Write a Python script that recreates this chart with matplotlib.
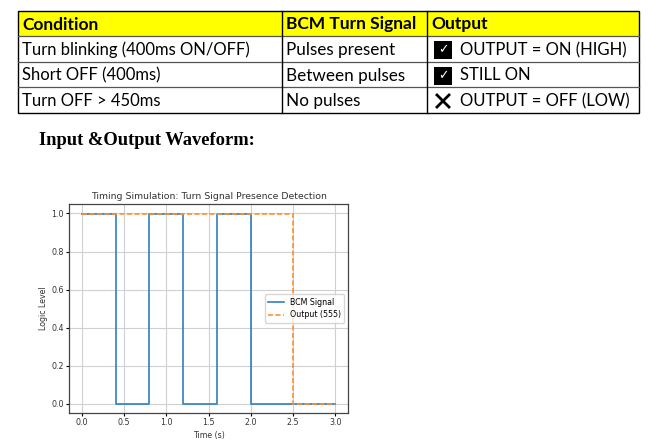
import numpy as np
import matplotlib.pyplot as plt
from matplotlib.patches import Rectangle

# table contents
headers = ['Condition', 'BCM Turn Signal', 'Output']
conditions = ['Turn blinking (400ms ON/OFF)', 'Short OFF (400ms)', 'Turn OFF > 450ms']
bcm_states = ['Pulses present', 'Between pulses', 'No pulses']
outputs = ['OUTPUT = ON (HIGH)', 'STILL ON', 'OUTPUT = OFF (LOW)']
output_marks = ['check', 'check', 'cross']

# waveform data (step, post)
t_bcm = [0.0, 0.4, 0.8, 1.2, 1.6, 2.0, 3.0]
bcm_signal = [1, 0, 1, 0, 1, 0, 0]
t_out = [0.0, 2.5, 3.0]
out_signal = [1, 0, 0]

W, H = 667, 442
fig = plt.figure(figsize=(W / 100, H / 100), dpi=100)

# background axes in pixel coordinates for table + heading
bg = fig.add_axes([0, 0, 1, 1])
bg.set_xlim(0, W)
bg.set_ylim(H, 0)
bg.axis('off')

tfont = 'Lato'
x0, x1, x2, x3 = 18, 282, 427, 639
row_y = [11, 36, 62, 87, 113]

bg.add_patch(Rectangle((x0, row_y[0]), x3 - x0, row_y[1] - row_y[0],
                       facecolor='#ffff00', edgecolor='none'))
for y in row_y[1:-1]:
    bg.plot([x0, x3], [y, y], color='#555555', lw=0.9)
bg.add_patch(Rectangle((x0, row_y[0]), x3 - x0, row_y[-1] - row_y[0],
                       facecolor='none', edgecolor='black', lw=1.0))
for x in (x1, x2):
    bg.plot([x, x], [row_y[0], row_y[-1]], color='black', lw=1.0)

hx = [x0 + 4, x1 + 4, x2 + 4]
for x, h in zip(hx, headers):
    bg.text(x, (row_y[0] + row_y[1]) / 2 + 1, h, fontsize=12.5, fontweight='bold',
            family=tfont, va='center', ha='left')

for i in range(3):
    yc = (row_y[i + 1] + row_y[i + 2]) / 2 + 1
    bg.text(x0 + 4, yc, conditions[i], fontsize=12, family=tfont, va='center')
    bg.text(x1 + 4, yc, bcm_states[i], fontsize=12.3, family=tfont, va='center')
    if output_marks[i] == 'check':
        bg.add_patch(Rectangle((434, yc - 9), 18, 18, facecolor='black', edgecolor='none'))
        bg.text(443, yc, '\u2713', color='white', fontsize=9,
                family='DejaVu Sans', ha='center', va='center')
    else:
        bg.plot([436, 450], [yc - 7, yc + 7], color='black', lw=2.0, solid_capstyle='butt')
        bg.plot([436, 450], [yc + 7, yc - 7], color='black', lw=2.0, solid_capstyle='butt')
    bg.text(460, yc, outputs[i], fontsize=12, family=tfont, va='center')

bg.text(39, 145, 'Input &Output Waveform:', fontsize=13.3, fontweight='bold',
        family='Liberation Serif', va='baseline')

# waveform plot
s = 0.5625
ax = fig.add_axes([69 / W, 1 - 413 / H, (348 - 69) / W, (413 - 204) / H])
ax.step(t_bcm, bcm_signal, where='post', lw=1.2, color='#2f7fc0', label='BCM Signal')
ax.step(t_out, out_signal, where='post', lw=1.2, color='#ff9030', linestyle='--',
        dashes=(3, 1.5), label='Output (555)')
ax.set_title('Timing Simulation: Turn Signal Presence Detection', fontsize=12 * s,
             pad=6 * s, color='#333333')
ax.set_xlabel('Time (s)', fontsize=10 * s, labelpad=4 * s, color='#333333')
ax.set_ylabel('Logic Level', fontsize=10 * s, labelpad=4 * s, color='#333333')
ax.tick_params(labelsize=10 * s, length=3.5 * s, width=0.8, pad=3.5 * s,
               labelcolor='#333333')
for sp in ax.spines.values():
    sp.set_linewidth(0.9)
    sp.set_color('#444444')
ax.grid(True, lw=0.8, color='#d0d0d0')
ax.legend(fontsize=10 * s, loc='center right')

fig.savefig('out.png', dpi=100)
